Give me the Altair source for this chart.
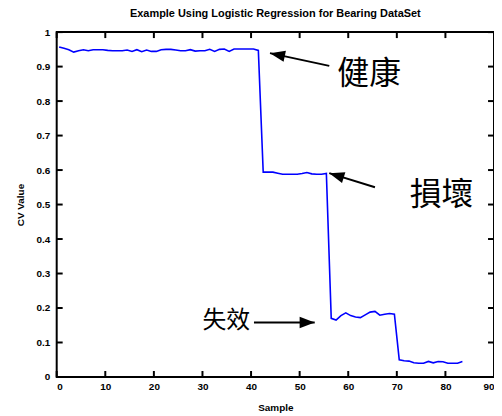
import altair as alt
import pandas as pd

# ---- data ----
healthy = [0.957, 0.953, 0.949, 0.942, 0.946, 0.949, 0.946, 0.949, 0.949, 0.949,
           0.947, 0.946, 0.946, 0.946, 0.948, 0.944, 0.949, 0.943, 0.948, 0.944,
           0.944, 0.949, 0.950, 0.950, 0.948, 0.946, 0.946, 0.949, 0.945, 0.946,
           0.946, 0.950, 0.944, 0.950, 0.951, 0.944, 0.951, 0.951, 0.951, 0.951,
           0.951, 0.947]
damage = [0.594, 0.594, 0.594, 0.591, 0.588, 0.588, 0.588, 0.588, 0.590, 0.593,
          0.589, 0.588, 0.588, 0.590]
failure = [0.170, 0.165, 0.178, 0.186, 0.178, 0.174, 0.172, 0.180, 0.188, 0.190,
           0.179, 0.182, 0.184, 0.182]
final = [0.050, 0.047, 0.046, 0.041, 0.040, 0.040, 0.045, 0.041, 0.045, 0.044,
         0.040, 0.040, 0.040, 0.045]

cv_value = healthy + damage + failure + final
sample = [i + 0.5 for i in range(len(cv_value))]

x_ticks = [0, 10, 20, 30, 40, 50, 60, 70, 80, 90]
y_ticks = [0, 0.1, 0.2, 0.3, 0.4, 0.5, 0.6, 0.7, 0.8, 0.9, 1]

ann_text = ["健康", "損壞", "失效"]
ann_text_x = [64.3, 79.2, 34.9]
ann_text_y = [0.879, 0.527, 0.161]
ann_font_size = [32, 32, 24]
arrow_tail_x = [56.1, 65.5, 40.6]
arrow_tail_y = [0.902, 0.550, 0.158]
arrow_tip_x = [43.9, 56.1, 53.1]
arrow_tip_y = [0.939, 0.591, 0.158]
arrow_angle = [282, 287, 90]

W, H, TICK = 440, 347, 6

df = pd.DataFrame({"sample": sample, "cv": cv_value})
ann = pd.DataFrame({"text": ann_text, "x": ann_text_x, "y": ann_text_y, "size": ann_font_size})
arrows = pd.DataFrame({"x": arrow_tail_x, "y": arrow_tail_y, "x2": arrow_tip_x,
                       "y2": arrow_tip_y, "angle": arrow_angle})
xt = pd.DataFrame({"t": x_ticks})
yt = pd.DataFrame({"t": y_ticks})

FONT = "Liberation Sans"
xscale = alt.Scale(domain=[0, 90], nice=False, zero=False)
yscale = alt.Scale(domain=[0, 1], nice=False, zero=False)

common_axis = dict(domain=False, ticks=False, grid=False, labelFont=FONT, labelFontSize=10,
                   labelFontWeight="bold", labelColor="black", titleFont=FONT,
                   titleFontSize=10, titleFontWeight="bold", titleColor="black")

line = alt.Chart(df).mark_line(color="#0000ff", strokeWidth=1.6).encode(
    x=alt.X("sample:Q", scale=xscale,
            axis=alt.Axis(values=x_ticks, title="Sample", orient="bottom",
                          labelPadding=5, titlePadding=11, format="d", **common_axis)),
    y=alt.Y("cv:Q", scale=yscale,
            axis=alt.Axis(values=y_ticks, title="CV Value", orient="left",
                          labelPadding=7, titlePadding=10, format=".1~f", **common_axis)),
)

tick_style = dict(color="black", strokeWidth=2)
bottom_ticks = alt.Chart(xt).mark_rule(**tick_style).encode(
    x=alt.X("t:Q", scale=xscale, axis=None), y=alt.value(H), y2=alt.value(H - TICK))
top_ticks = alt.Chart(xt).mark_rule(**tick_style).encode(
    x=alt.X("t:Q", scale=xscale, axis=None), y=alt.value(0), y2=alt.value(TICK))
left_ticks = alt.Chart(yt).mark_rule(**tick_style).encode(
    y=alt.Y("t:Q", scale=yscale, axis=None), x=alt.value(0), x2=alt.value(TICK))
right_ticks = alt.Chart(yt).mark_rule(**tick_style).encode(
    y=alt.Y("t:Q", scale=yscale, axis=None), x=alt.value(W), x2=alt.value(W - TICK))

shafts = alt.Chart(arrows).mark_rule(color="black", strokeWidth=2).encode(
    x=alt.X("x:Q", scale=xscale, axis=None),
    y=alt.Y("y:Q", scale=yscale, axis=None),
    x2="x2:Q",
    y2="y2:Q",
)

heads = alt.Chart(arrows).mark_point(
    shape="M0,0L0.75,2L-0.75,2Z", filled=True, color="black", opacity=1, size=230
).encode(
    x=alt.X("x2:Q", scale=xscale, axis=None),
    y=alt.Y("y2:Q", scale=yscale, axis=None),
    angle=alt.Angle("angle:Q", scale=None),
)

labels = alt.Chart(ann).mark_text(font="Noto Sans CJK TC", color="black",
                                  align="center", baseline="middle").encode(
    x=alt.X("x:Q", scale=xscale, axis=None),
    y=alt.Y("y:Q", scale=yscale, axis=None),
    text="text:N",
    size=alt.Size("size:Q", scale=None, legend=None),
)

chart = alt.layer(line, bottom_ticks, top_ticks, left_ticks, right_ticks,
                  shafts, heads, labels).resolve_axis(
    x="independent", y="independent"
).properties(
    width=W, height=H,
    title=alt.TitleParams("Example Using Logistic Regression for Bearing DataSet",
                          font=FONT, fontSize=11, fontWeight="bold", color="black",
                          anchor="middle", offset=8),
    autosize=alt.AutoSizeParams(type="none"),
    padding={"left": 49, "top": 23, "right": 0, "bottom": 36},
).configure_view(stroke="black", strokeWidth=2)

chart.save("out.html", embed_options={"renderer": "svg", "actions": False})
